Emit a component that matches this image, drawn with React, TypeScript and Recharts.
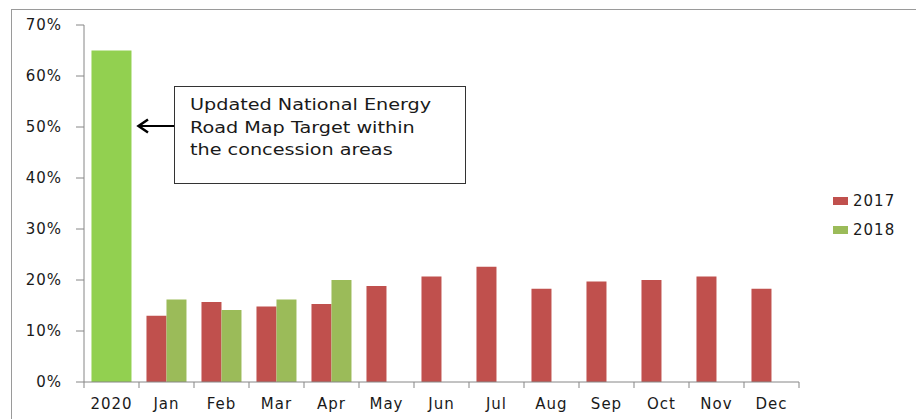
import React from 'react';
import { BarChart, Bar, XAxis, YAxis, LabelList } from 'recharts';

const categories = ['2020', 'Jan', 'Feb', 'Mar', 'Apr', 'May', 'Jun', 'Jul', 'Aug', 'Sep', 'Oct', 'Nov', 'Dec'];
const values2017 = [null, 13.0, 15.7, 14.8, 15.3, 18.8, 20.7, 22.6, 18.3, 19.7, 20.0, 20.7, 18.3];
const values2018 = [null, 16.2, 14.1, 16.2, 20.0, null, null, null, null, null, null, null, null];
const target2020 = [65, null, null, null, null, null, null, null, null, null, null, null, null];
const labelledMonths = ['Apr'];
const yTicks = [0, 10, 20, 30, 40, 50, 60, 70];

const RED = '#C0504D';
const GREEN = '#9BBB59';
const BRIGHT_GREEN = '#92D050';
const AXIS = '#868686';
const TEXT = '#1a1a1a';

const data = categories.map((name, i) => ({
    name,
    y2017: values2017[i],
    y2018: values2018[i],
    target: target2020[i],
}));

// Excel puts the category ticks on the boundaries, not at the centres
const CategoryTick = (props: any) => {
    const { x, y, payload, index, visibleTicksCount, width } = props;
    const half = width / visibleTicksCount / 2;
    return (
        <g>
            <rect x={x - half - 0.5} y={y} width={1} height={6} fill={AXIS} />
            {index === visibleTicksCount - 1 && (
                <rect x={x + half - 0.5} y={y} width={1} height={6} fill={AXIS} />
            )}
            <text x={x} y={y + 27} textAnchor="middle" fill={TEXT} fontSize={15} letterSpacing={1}>
                {payload.value}
            </text>
        </g>
    );
};

// the 2020 target is one wide bar spanning both series slots
const TargetShape = (props: any) => {
    const { x, y, width, height } = props;
    if (!height) return null;
    return <rect x={x - width} y={y} width={width * 2} height={height} fill={BRIGHT_GREEN} />;
};

const AprLabel = (props: any) => {
    const { x, y, width, value, index } = props;
    if (value == null || !labelledMonths.includes(categories[index])) return null;
    return (
        <text x={x + width / 2} y={y - 10} textAnchor="middle" fill={TEXT} fontSize={15} letterSpacing={1}>
            {`${Number(value).toFixed(1)}%`}
        </text>
    );
};

const legendItems = [
    { label: '2017', color: RED },
    { label: '2018', color: GREEN },
];

export default function App() {
    return (
        <div style={{ position: 'relative', width: 924, height: 419, margin: '-8px 0 0 -8px', fontFamily: '"DejaVu Sans", sans-serif', background: '#fff', overflow: 'hidden' }}>
            <div style={{ position: 'absolute', left: 11, top: 9, width: 906, height: 420, border: '1px solid #9a9a9a' }} />
            <div style={{ position: 'absolute', left: 0, top: 0 }}>
                <BarChart width={924} height={419} data={data} margin={{ top: 25, right: 125, bottom: 0, left: 0 }} barGap={0} barCategoryGap="13.6%">
                    <XAxis dataKey="name" height={37} tickLine={false} tickSize={0} tickMargin={0} axisLine={{ stroke: AXIS }} tick={<CategoryTick />} interval={0} />
                    <YAxis width={84} domain={[0, 70]} ticks={yTicks} tickFormatter={(v) => `${v}%`} tickSize={8} tickMargin={14} axisLine={{ stroke: AXIS }} tickLine={{ stroke: AXIS }} tick={{ fill: TEXT, fontSize: 15, letterSpacing: 1 }} />
                    <Bar dataKey="y2017" name="2017" fill={RED} stackId="r" isAnimationActive={false} />
                    <Bar dataKey="y2018" name="2018" fill={GREEN} stackId="g" isAnimationActive={false}>
                        <LabelList dataKey="y2018" content={<AprLabel />} />
                    </Bar>
                    <Bar dataKey="target" name="Target" stackId="g" shape={<TargetShape />} legendType="none" isAnimationActive={false} />
                </BarChart>
            </div>
            <div style={{ position: 'absolute', left: 833, top: 190 }}>
                {legendItems.map((item) => (
                    <div key={item.label} style={{ display: 'flex', alignItems: 'center', height: 22, marginBottom: 7 }}>
                        <span style={{ display: 'inline-block', width: 15, height: 8, background: item.color, marginRight: 5 }} />
                        <span style={{ fontSize: 15, color: TEXT, letterSpacing: 1 }}>{item.label}</span>
                    </div>
                ))}
            </div>
            <div style={{ position: 'absolute', left: 174, top: 86, width: 292, height: 98, border: '1px solid #333', background: '#fff', boxSizing: 'border-box' }}>
                <div style={{ position: 'absolute', left: 15, top: 7, fontSize: 16, lineHeight: '22.5px', color: TEXT, whiteSpace: 'nowrap', transform: 'scaleX(1.2)', transformOrigin: 'left top' }}>
                    Updated National Energy<br />Road Map Target within<br />the concession areas
                </div>
            </div>
            <svg style={{ position: 'absolute', left: 0, top: 0 }} width={924} height={419} pointerEvents="none">
                <line x1={174} y1={126} x2={139} y2={126} stroke="#000" strokeWidth={2} />
                <polyline points="148,119.5 138.5,126 148,132.5" fill="none" stroke="#000" strokeWidth={2.5} />
            </svg>
        </div>
    );
}
